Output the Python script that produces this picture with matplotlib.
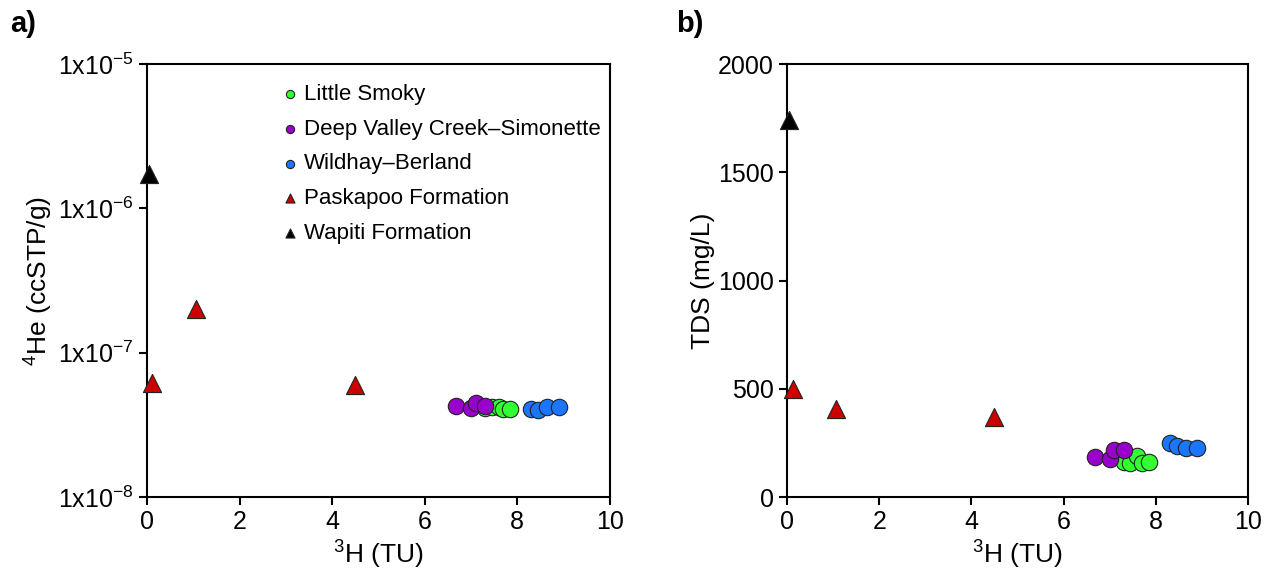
import numpy as np
import matplotlib
matplotlib.use('Agg')
import matplotlib.pyplot as plt
from matplotlib.ticker import FixedLocator, NullLocator

plt.rcParams['font.family'] = ['Liberation Sans', 'DejaVu Sans']
plt.rcParams['mathtext.default'] = 'regular'

# 3H (TU) per group, same samples in both panels
ls_h3 = [7.3, 7.45, 7.6, 7.7, 7.85]
dv_h3 = [6.67, 7.0, 7.1, 7.3]
wb_h3 = [8.3, 8.45, 8.65, 8.9]
pk_h3 = [0.12, 1.07, 4.5]
wp_h3 = [0.05]

# 4He (ccSTP/g)
ls_he = [4.15e-8, 4.2e-8, 4.2e-8, 4.1e-8, 4.1e-8]
dv_he = [4.26e-8, 4.13e-8, 4.48e-8, 4.26e-8]
wb_he = [4.05e-8, 4.0e-8, 4.2e-8, 4.2e-8]
pk_he = [6.15e-8, 2.0e-7, 5.97e-8]
wp_he = [1.74e-6]

# TDS (mg/L)
ls_tds = [162, 157, 189, 157, 162]
dv_tds = [185, 176, 217, 217]
wb_tds = [249, 236, 226, 226]
pk_tds = [499, 406, 370]
wp_tds = [1741]

groups = [
    ('Little Smoky', 'o', '#33ff33', ls_h3, ls_he, ls_tds),
    ('Deep Valley Creek\u2013Simonette', 'o', '#9900cc', dv_h3, dv_he, dv_tds),
    ('Wildhay\u2013Berland', 'o', '#1a75ff', wb_h3, wb_he, wb_tds),
    ('Paskapoo Formation', '^', '#cc0000', pk_h3, pk_he, pk_tds),
    ('Wapiti Formation', '^', '#000000', wp_h3, wp_he, wp_tds),
]

fig = plt.figure(figsize=(12.7, 5.74), dpi=100)
ax1 = fig.add_axes([0.1157, 0.134, 0.3646, 0.7544])
ax2 = fig.add_axes([0.6197, 0.134, 0.363, 0.7544])

for name, m, c, h3, he, tds in groups:
    s = 140 if m == 'o' else 170
    ax1.scatter(h3, he, marker=m, s=s, c=c, edgecolors='#222222', linewidths=0.8,
                label=name, zorder=3, clip_on=False)
    ax2.scatter(h3, tds, marker=m, s=s, c=c, edgecolors='#222222', linewidths=0.8,
                zorder=3, clip_on=False)

ax1.set_yscale('log')
ax1.set_ylim(1e-8, 1e-5)
ax1.yaxis.set_major_locator(FixedLocator([1e-8, 1e-7, 1e-6, 1e-5]))
ax1.yaxis.set_minor_locator(NullLocator())
ax1.set_yticklabels(['1x10$^{-8}$', '1x10$^{-7}$', '1x10$^{-6}$', '1x10$^{-5}$'])
ax1.set_ylabel('$^{4}$He (ccSTP/g)', fontsize=19, labelpad=2)

ax2.set_ylim(0, 2000)
ax2.set_yticks([0, 500, 1000, 1500, 2000])
ax2.set_ylabel('TDS (mg/L)', fontsize=19, labelpad=2)

for ax in (ax1, ax2):
    ax.set_xlim(0, 10)
    ax.set_xticks([0, 2, 4, 6, 8, 10])
    ax.set_xlabel('$^{3}$H (TU)', fontsize=19, labelpad=3)
    ax.tick_params(labelsize=18, width=1.5, length=6, direction='out')
    for sp in ax.spines.values():
        sp.set_linewidth(1.5)

leg = ax1.legend(loc='upper left', bbox_to_anchor=(0.257, 0.985), frameon=False,
                 fontsize=16, markerscale=0.5, handletextpad=0.1,
                 handlelength=1.0, labelspacing=0.62, borderaxespad=0.2)

fig.text(0.008, 0.945, 'a)', fontsize=21, fontweight='bold')
fig.text(0.532, 0.945, 'b)', fontsize=21, fontweight='bold')

fig.savefig('out.png', dpi=100)
